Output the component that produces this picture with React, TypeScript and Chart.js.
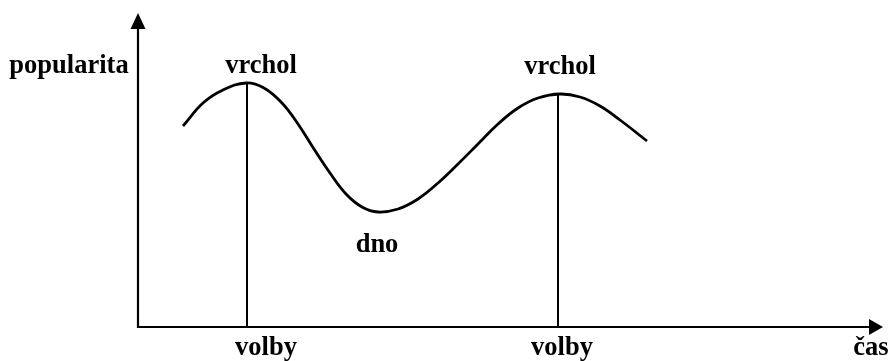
import { useEffect, useRef } from "react";
import { Chart, registerables } from "chart.js";
Chart.register(...registerables);

// popularity curve (time, popularity)
const curveTime = [45, 65, 85, 108, 126, 144, 160, 176, 192, 208, 224, 240, 260, 280, 300, 320, 340, 360, 380, 400, 422, 442, 462, 482, 509];
const curvePopularity = [201, 224, 237, 244, 239, 224, 203, 178, 154, 133, 120, 115, 118, 128, 144, 163, 183, 203, 219, 229, 233, 230, 221, 207, 186];

// elections (vertical lines)
const electionTimes = [109, 420];
const electionPeaks = [243, 232];

// axes extents
const axisTimeEnd = 745;
const axisPopEnd = 314;

// labels
const labelTexts = ["popularita", "vrchol", "vrchol", "dno", "volby", "volby", "čas"];
const labelTime = [-69, 123, 422, 239, 128, 424, 733];
const labelPop = [254, 254, 253, 75, -28, -28, -28];

export default function App() {
  const ref = useRef<HTMLCanvasElement | null>(null);
  useEffect(() => {
    if (!ref.current) return;
    const axesPlugin = {
      id: "axesPlugin",
      afterDatasetsDraw(chart: any) {
        const { ctx, scales } = chart;
        const xs = scales.x;
        const ys = scales.y;
        const px = (v: number) => xs.getPixelForValue(v);
        const py = (v: number) => ys.getPixelForValue(v);
        ctx.save();
        ctx.strokeStyle = "#000";
        ctx.fillStyle = "#000";
        ctx.lineWidth = 2.2;
        // x axis
        const x0 = px(-1), y0 = py(0);
        const xTip = px(axisTimeEnd);
        ctx.beginPath();
        ctx.moveTo(x0, y0);
        ctx.lineTo(xTip - 12, y0);
        ctx.stroke();
        ctx.beginPath();
        ctx.moveTo(xTip, y0);
        ctx.lineTo(xTip - 14, y0 - 8);
        ctx.lineTo(xTip - 14, y0 + 8);
        ctx.closePath();
        ctx.fill();
        // y axis
        const ax = px(0);
        const yTip = py(axisPopEnd);
        ctx.beginPath();
        ctx.moveTo(ax, py(-1));
        ctx.lineTo(ax, yTip + 14);
        ctx.stroke();
        ctx.beginPath();
        ctx.moveTo(ax, yTip);
        ctx.lineTo(ax - 7.5, yTip + 16);
        ctx.lineTo(ax + 7.5, yTip + 16);
        ctx.closePath();
        ctx.fill();
        // labels
        ctx.font = 'bold 26.5px "Liberation Serif", "Times New Roman", serif';
        ctx.textAlign = "center";
        ctx.textBaseline = "alphabetic";
        labelTexts.forEach((t, i) => {
          ctx.fillText(t, px(labelTime[i]), py(labelPop[i]));
        });
        ctx.restore();
      },
    };
    const chart = new Chart(ref.current, {
      type: "scatter",
      data: {
        datasets: [
          {
            data: curveTime.map((t, i) => ({ x: t, y: curvePopularity[i] })),
            showLine: true,
            borderColor: "#000",
            borderWidth: 2.8,
            pointRadius: 0,
            tension: 0.4,
          } as any,
          ...electionTimes.map((t, i) => ({
            data: [
              { x: t, y: 0 },
              { x: t, y: electionPeaks[i] },
            ],
            showLine: true,
            borderColor: "#000",
            borderWidth: 2,
            pointRadius: 0,
          })),
        ],
      },
      options: {
        responsive: false,
        animation: false,
        layout: { padding: 0 },
        plugins: { legend: { display: false }, tooltip: { enabled: false } },
        events: [],
        scales: {
          x: { type: "linear", min: -138, max: 753, display: false },
          y: { type: "linear", min: -34, max: 327, display: false },
        },
      },
      plugins: [axesPlugin],
    });
    return () => chart.destroy();
  }, []);
  return (
    <div style={{ position: "absolute", left: 0, top: 0, width: 891, height: 361, background: "#fff" }}>
      <canvas ref={ref} width={891} height={361} style={{ display: "block" }} />
    </div>
  );
}
